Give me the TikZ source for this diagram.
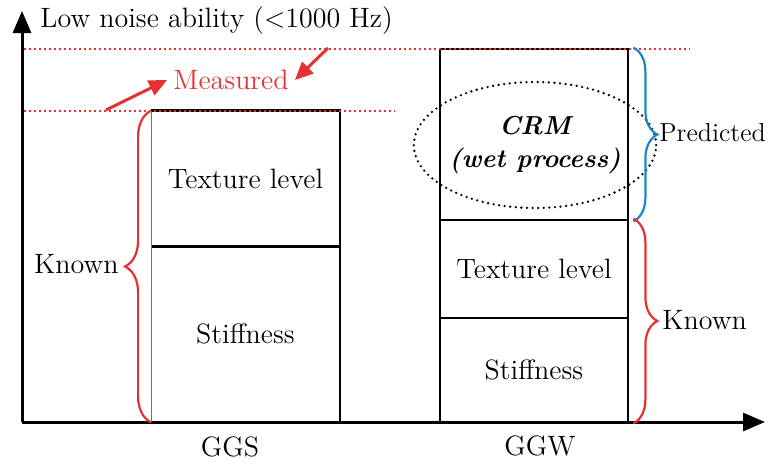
\documentclass[tikz,border=0pt]{standalone}
\usepackage{xcolor}
\usepackage{tikz}
\usetikzlibrary{shapes.geometric, arrows.meta, decorations.pathreplacing}
\definecolor{measured}{RGB}{228,50,50}
\definecolor{predicted}{RGB}{28,134,200}

\begin{document}
\begin{tikzpicture}[x=0.5pt, y=-0.5pt, font=\fontsize{14}{16.5}\selectfont]
    % Define styles
    \tikzstyle{barbox} = [rectangle, minimum width=94pt, inner sep=0pt, text centered]
    \tikzstyle{boxline} = [line width=1.4pt]
    \tikzstyle{thinedge} = [line width=0.6pt, draw=black!55]
    \tikzstyle{axis} = [line width=1.5pt, -{Triangle[length=11pt, width=9pt]}]
    \tikzstyle{redline} = [measured, line width=1pt, dash pattern=on 1pt off 1.5pt]
    \tikzstyle{redarrow} = [measured, line width=1.5pt, -{Triangle[length=9pt, width=8pt]}]
    \tikzstyle{crmellipse} = [ellipse, draw, line width=1.3pt, line cap=round, dash pattern=on 0pt off 2.8pt, minimum width=105pt, minimum height=63pt, inner sep=0pt, align=center, font=\fontsize{13}{16.5}\selectfont\bfseries\itshape]
    \tikzstyle{knownbrace} = [measured, line width=1.1pt, decorate, decoration={brace, amplitude=12pt, raise=2pt}]
    \tikzstyle{predbrace} = [predicted, line width=1.1pt, decorate, decoration={brace, amplitude=12pt, raise=2pt}]
    \tikzstyle{label} = [inner sep=0pt]

    \useasboundingbox (0,0) rectangle (773,463);

    % Axes
    \coordinate (origin) at (22,422);
    \coordinate (yend) at (22,11);
    \coordinate (xend) at (765,422);
    \draw [axis] (origin) -- (yend);
    \draw [axis] (origin) -- (xend);
    \node (ytitle) [label, anchor=west] at (40,21) {Low noise ability (<1000 Hz)};

    % Nodes
    \node (ggsTex) [barbox, minimum height=67.5pt] at (245.5,178.5) {Texture level};
    \node (ggsStiff) [barbox, minimum height=88pt] at (245.5,334) {Stiffness};
    \node (ggwCrm) [barbox, boxline, draw, minimum height=85.5pt] at (534,134.5) {};
    \node (ggwTex) [barbox, boxline, draw, minimum height=49pt] at (534,269) {Texture level};
    \node (ggwStiff) [barbox, boxline, draw, minimum height=52pt] at (534,370) {Stiffness};
    \node (crm) [crmellipse] at (535,145) {CRM\\(wet process)};
    \node (ggs) [label] at (230,447) {GGS};
    \node (ggw) [label] at (540,446) {GGW};

    % GGS box
    \draw [boxline] (ggsTex.north west) -- (ggsTex.north east) -- (ggsStiff.south east);
    \draw [boxline] (ggsTex.south west) -- (ggsTex.south east);
    \draw [thinedge] (ggsTex.north west) -- (ggsStiff.south west);

    % Measured levels
    \coordinate (topL) at (24,49);
    \coordinate (topR) at (690,49);
    \coordinate (midL) at (24,111);
    \coordinate (midR) at (395,111);
    \draw [redline] (topL) -- (topR);
    \draw [redline] (midL) -- (midR);
    \node (measured) [measured, inner sep=3pt] at (231,80) {Measured};
    \coordinate (m1) at (106,110);
    \coordinate (m2) at (328,48);
    \draw [redarrow] (m1) -- (measured.west);
    \draw [redarrow] (m2) -- (measured.east);

    % Braces
    \draw [knownbrace, decoration={amplitude=13pt, raise=0pt}] (ggsStiff.south west) -- (ggsTex.north west);
    \node (knownL) [label, anchor=east] at (119,264) {Known};
    \draw [predbrace] (ggwCrm.north east) -- (ggwCrm.south east);
    \node (predicted) [label, anchor=west, font=\fontsize{13}{16}\selectfont] at (659,133) {Predicted};
    \draw [knownbrace] (ggwTex.north east) -- (ggwStiff.south east);
    \node (knownR) [label, anchor=west] at (662,320) {Known};
\end{tikzpicture}
\end{document}
